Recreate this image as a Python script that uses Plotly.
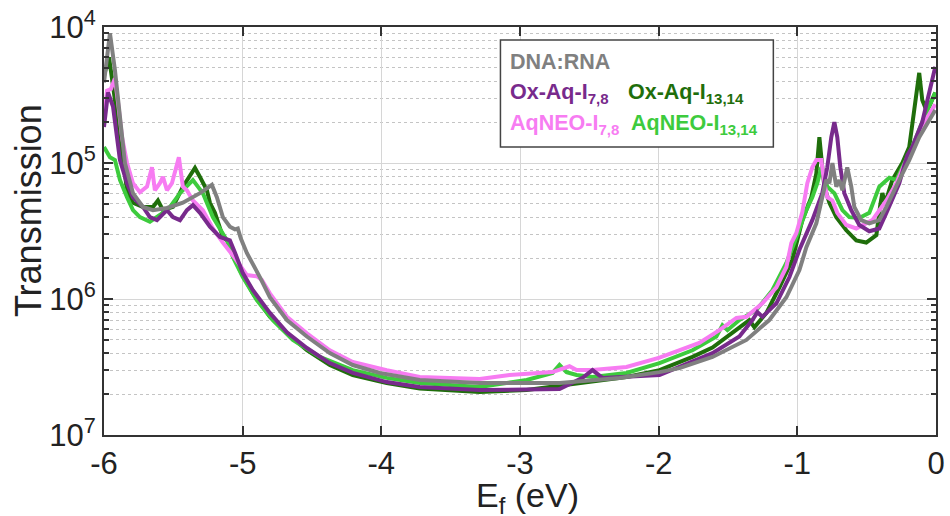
import plotly.graph_objects as go

# ---------------- data ----------------
# DNA:RNA (gray)
E_dna = [-6.0, -5.957, -5.921, -5.885, -5.849, -5.791, -5.719, -5.647, -5.546, -5.431,
         -5.308, -5.222, -5.186, -5.143, -5.092, -5.056, -5.035, -5.013, -4.970, -4.876,
         -4.804, -4.681, -4.537, -4.372, -4.206, -4.01, -3.723, -3.291, -2.715, -2.282,
         -1.994, -1.850, -1.612, -1.367, -1.202, -1.079, -0.985, -0.935, -0.863, -0.820,
         -0.791, -0.769, -0.747, -0.719, -0.697, -0.675, -0.640, -0.611, -0.589, -0.539,
         -0.481, -0.409, -0.358, -0.265, -0.193, -0.121, -0.049, -0.005]
T_dna = [3.9e-5, 9.0e-5, 4.8e-5, 2.1e-5, 1.0e-5, 6.0e-6, 4.75e-6, 4.5e-6, 4.67e-6, 5.1e-6,
         6.0e-6, 6.9e-6, 5.6e-6, 4.0e-6, 3.4e-6, 3.25e-6, 3.3e-6, 2.78e-6, 2.18e-6, 1.45e-6,
         1.03e-6, 7.0e-7, 5.3e-7, 4.0e-7, 3.27e-7, 2.86e-7, 2.54e-7, 2.41e-7, 2.41e-7, 2.63e-7,
         2.9e-7, 3.1e-7, 3.75e-7, 5.0e-7, 7.0e-7, 1.03e-6, 1.63e-6, 2.4e-6, 3.6e-6, 5.6e-6,
         7.5e-6, 7.1e-6, 1.0e-5, 6.7e-6, 7.5e-6, 6.3e-6, 9.3e-6, 6.7e-6, 4.75e-6, 3.8e-6,
         3.6e-6, 3.8e-6, 4.75e-6, 7.5e-6, 1.05e-5, 1.55e-5, 2.1e-5, 2.45e-5]

# Ox-Aq-I7,8 (purple)
E_oxaq78 = [-6.0, -5.971, -5.935, -5.899, -5.885, -5.834, -5.791, -5.719, -5.669, -5.618,
            -5.546, -5.503, -5.452, -5.402, -5.359, -5.308, -5.236, -5.164, -5.092, -5.056,
            -4.999, -4.926, -4.804, -4.681, -4.537, -4.372, -4.206, -3.961, -3.723, -3.291,
            -2.715, -2.549, -2.477, -2.405, -1.994, -1.612, -1.418, -1.324, -1.288, -1.252,
            -1.151, -1.057, -0.985, -0.892, -0.820, -0.784, -0.755, -0.733, -0.712, -0.690,
            -0.661, -0.611, -0.553, -0.481, -0.409, -0.358, -0.265, -0.207, -0.171, -0.099,
            -0.049, -0.005]
T_oxaq78 = [1.84e-5, 3.3e-5, 2.6e-5, 1.31e-5, 1.05e-5, 7.1e-6, 5.6e-6, 4.75e-6, 4.0e-6, 3.8e-6,
            4.5e-6, 4.0e-6, 3.8e-6, 4.5e-6, 4.9e-6, 4.3e-6, 3.4e-6, 2.86e-6, 2.7e-6, 2.2e-6,
            1.55e-6, 1.16e-6, 7.9e-7, 5.7e-7, 4.36e-7, 3.38e-7, 2.86e-7, 2.45e-7, 2.25e-7, 2.14e-7,
            2.18e-7, 2.63e-7, 3.0e-7, 2.63e-7, 2.76e-7, 4.0e-7, 5.3e-7, 7.0e-7, 8.0e-7, 7.4e-7,
            9.3e-7, 1.45e-6, 2.3e-6, 3.8e-6, 6.0e-6, 9.3e-6, 1.55e-5, 2.0e-5, 1.55e-5, 9.3e-6,
            6.0e-6, 4.5e-6, 3.5e-6, 3.15e-6, 3.3e-6, 4.3e-6, 7.1e-6, 1.14e-5, 1.31e-5, 2.0e-5,
            3.4e-5, 5.1e-5]

# Ox-Aq-I13,14 (dark green)
E_oxaq1314 = [-6.0, -5.964, -5.935, -5.899, -5.863, -5.834, -5.791, -5.719, -5.647, -5.611,
              -5.575, -5.503, -5.431, -5.344, -5.308, -5.258, -5.236, -5.200, -5.143, -5.092,
              -5.020, -4.926, -4.804, -4.681, -4.537, -4.372, -4.206, -3.961, -3.723, -3.291,
              -2.952, -2.477, -2.232, -1.994, -1.756, -1.612, -1.468, -1.367, -1.346, -1.310,
              -1.223, -1.129, -1.036, -0.964, -0.899, -0.863, -0.841, -0.820, -0.805, -0.769,
              -0.719, -0.647, -0.575, -0.503, -0.430, -0.402, -0.387, -0.366, -0.315, -0.243,
              -0.193, -0.157, -0.121, -0.099, -0.070, -0.049, -0.005]
T_oxaq1314 = [4.4e-5, 6.0e-5, 3.7e-5, 1.9e-5, 9.7e-6, 6.3e-6, 5.1e-6, 4.75e-6, 4.75e-6, 5.3e-6,
              4.5e-6, 4.75e-6, 6.7e-6, 9.2e-6, 7.9e-6, 6.3e-6, 5.1e-6, 4.3e-6, 2.86e-6, 2.58e-6,
              1.63e-6, 1.1e-6, 7.4e-7, 5.6e-7, 4.2e-7, 3.27e-7, 2.76e-7, 2.41e-7, 2.2e-7, 2.07e-7,
              2.14e-7, 2.45e-7, 2.67e-7, 3.0e-7, 3.75e-7, 4.4e-7, 5.6e-7, 6.7e-7, 7.0e-7, 6.2e-7,
              7.9e-7, 1.22e-6, 1.94e-6, 3.8e-6, 5.6e-6, 8.4e-6, 1.55e-5, 9.3e-6, 6.7e-6, 5.1e-6,
              4.0e-6, 3.2e-6, 2.7e-6, 2.6e-6, 2.95e-6, 4.9e-6, 6.0e-6, 5.1e-6, 7.5e-6, 1.0e-5,
              1.31e-5, 2.45e-5, 4.6e-5, 2.9e-5, 2.45e-5, 2.6e-5, 3.3e-5]

# AqNEO-I7,8 (pink)
E_aqneo78 = [-6.0, -5.978, -5.950, -5.921, -5.899, -5.870, -5.834, -5.791, -5.741, -5.690,
             -5.654, -5.633, -5.597, -5.575, -5.546, -5.510, -5.460, -5.431, -5.402, -5.359,
             -5.287, -5.215, -5.143, -5.056, -4.970, -4.898, -4.862, -4.804, -4.681, -4.537,
             -4.372, -4.206, -3.961, -3.723, -3.291, -3.075, -2.765, -2.643, -2.592, -2.477,
             -2.232, -1.994, -1.707, -1.562, -1.439, -1.367, -1.252, -1.151, -1.079, -1.043,
             -1.007, -0.964, -0.928, -0.892, -0.863, -0.827, -0.805, -0.784, -0.747, -0.712,
             -0.647, -0.575, -0.459, -0.358, -0.286, -0.214, -0.142, -0.070, -0.005]
T_aqneo78 = [2.0e-5, 3.4e-5, 3.5e-5, 4.2e-5, 2.8e-5, 1.55e-5, 1.0e-5, 7.1e-6, 6.1e-6, 6.7e-6,
             9.3e-6, 6.3e-6, 7.1e-6, 7.9e-6, 6.3e-6, 7.1e-6, 1.1e-5, 6.7e-6, 6.3e-6, 5.3e-6,
             4.5e-6, 3.3e-6, 2.6e-6, 2.0e-6, 1.5e-6, 1.47e-6, 1.38e-6, 1.1e-6, 7.4e-7, 5.6e-7,
             4.2e-7, 3.44e-7, 3.0e-7, 2.67e-7, 2.58e-7, 2.76e-7, 2.9e-7, 3.2e-7, 3.0e-7, 3.0e-7,
             3.16e-7, 3.7e-7, 4.75e-7, 5.9e-7, 7.25e-7, 7.4e-7, 9.3e-7, 1.22e-6, 1.72e-6, 2.58e-6,
             3.06e-6, 4.36e-6, 7.1e-6, 9.3e-6, 1.05e-5, 1.05e-5, 7.1e-6, 5.6e-6, 5.3e-6, 4.3e-6,
             3.5e-6, 3.3e-6, 3.8e-6, 5.3e-6, 7.1e-6, 1.05e-5, 1.48e-5, 2.1e-5, 2.7e-5]

# AqNEO-I13,14 (light green)
E_aqneo1314 = [-6.0, -5.957, -5.921, -5.885, -5.834, -5.791, -5.741, -5.669, -5.597, -5.524,
               -5.452, -5.402, -5.359, -5.323, -5.287, -5.215, -5.114, -5.071, -4.999, -4.898,
               -4.782, -4.638, -4.444, -4.206, -3.961, -3.723, -3.291, -2.952, -2.765, -2.715,
               -2.664, -2.592, -2.477, -2.232, -1.994, -1.756, -1.584, -1.540, -1.504, -1.418,
               -1.295, -1.180, -1.079, -1.021, -0.935, -0.892, -0.856, -0.827, -0.805, -0.784,
               -0.733, -0.675, -0.625, -0.553, -0.481, -0.409, -0.337, -0.286, -0.243, -0.171,
               -0.099, -0.049, -0.005]
T_aqneo1314 = [1.31e-5, 1.1e-5, 1.05e-5, 7.5e-6, 5.6e-6, 4.5e-6, 4.0e-6, 3.7e-6, 4.15e-6, 4.75e-6,
               6.0e-6, 6.7e-6, 7.5e-6, 6.7e-6, 6.0e-6, 4.0e-6, 2.7e-6, 2.04e-6, 1.45e-6, 9.8e-7,
               7.0e-7, 5.0e-7, 3.75e-7, 3.0e-7, 2.63e-7, 2.41e-7, 2.25e-7, 2.54e-7, 2.86e-7, 3.27e-7,
               2.9e-7, 2.76e-7, 2.67e-7, 2.86e-7, 3.38e-7, 4.2e-7, 5.3e-7, 6.4e-7, 5.9e-7, 7.0e-7,
               8.3e-7, 1.16e-6, 1.84e-6, 2.6e-6, 4.5e-6, 5.6e-6, 7.1e-6, 9.3e-6, 7.9e-6, 6.7e-6,
               6.0e-6, 4.5e-6, 4.0e-6, 3.94e-6, 4.3e-6, 6.7e-6, 7.8e-6, 7.5e-6, 9.3e-6, 1.31e-5,
               2.0e-5, 2.6e-5, 3.3e-5]

x_ticks = [-6, -5, -4, -3, -2, -1, 0]
x_ticklabels = ["-6", "-5", "-4", "-3", "-2", "-1", "0"]
y_ticks = [1e-7, 1e-6, 1e-5, 1e-4]
y_ticklabels = ["10<sup>7</sup>", "10<sup>6</sup>", "10<sup>5</sup>", "10<sup>4</sup>"]

C_GRAY = "#808080"
C_PURPLE = "#782A8C"
C_DGREEN = "#1F6E0B"
C_PINK = "#F77CF2"
C_LGREEN = "#3DCB3D"

FONT = "Arial, Liberation Sans, sans-serif"
TXT = "#222222"

fig = go.Figure()
series = [
    (E_oxaq1314, T_oxaq1314, C_DGREEN, "Ox-Aq-I13,14"),
    (E_aqneo1314, T_aqneo1314, C_LGREEN, "AqNEO-I13,14"),
    (E_aqneo78, T_aqneo78, C_PINK, "AqNEO-I7,8"),
    (E_oxaq78, T_oxaq78, C_PURPLE, "Ox-Aq-I7,8"),
    (E_dna, T_dna, C_GRAY, "DNA:RNA"),
]
for ex, ty, col, name in series:
    fig.add_trace(go.Scatter(x=ex, y=ty, mode="lines", name=name,
                             line=dict(color=col, width=4), showlegend=False))

minor_vals = [m * 10.0 ** e for e in range(-7, -4) for m in range(2, 10)]

fig.update_xaxes(range=[-6, 0], tickmode="array", tickvals=x_ticks, ticktext=x_ticklabels,
                 showgrid=True, gridcolor="#d6d6d6", gridwidth=1,
                 ticks="inside", ticklen=9, tickwidth=1.5, tickcolor="#333",
                 showline=True, linecolor="#333", linewidth=2, mirror="allticks",
                 tickfont=dict(family=FONT, size=31, color=TXT),
                 automargin=False, zeroline=False)
fig.update_yaxes(type="log", range=[-7, -4], tickmode="array", tickvals=y_ticks, ticktext=y_ticklabels,
                 showgrid=True, gridcolor="#d6d6d6", gridwidth=1,
                 ticks="inside", ticklen=9, tickwidth=1.5, tickcolor="#333",
                 showline=True, linecolor="#333", linewidth=2, mirror="allticks",
                 tickfont=dict(family=FONT, size=31, color=TXT),
                 minor=dict(tickmode="array", tickvals=minor_vals, ticks="inside", ticklen=5,
                            tickcolor="#333", showgrid=True, gridcolor="#c4c4c4",
                            griddash="dot", gridwidth=1),
                 automargin=False, zeroline=False)

# axis titles
fig.add_annotation(text="E<sub>f</sub> (eV)", xref="paper", yref="paper", x=0.5096, y=-0.152,
                   xanchor="center", yanchor="middle", showarrow=False,
                   font=dict(family=FONT, size=34, color=TXT))
fig.add_annotation(text="Transmission", xref="paper", yref="paper", x=-0.0913, y=0.549,
                   xanchor="center", yanchor="middle", showarrow=False, textangle=-90,
                   font=dict(family=FONT, size=36, color=TXT))

# legend box drawn as text
fig.add_shape(type="rect", xref="paper", yref="paper", x0=0.4765, x1=0.8045, y0=0.706, y1=0.968,
              line=dict(color="#444", width=1.5), fillcolor="white", layer="above")
leg_items = [
    ("<b>DNA:RNA</b>", C_GRAY, 0.4856, 0.915),
    ("<b>Ox-Aq-I<sub>7,8</sub></b>", C_PURPLE, 0.4856, 0.837),
    ("<b>Ox-Aq-I<sub>13,14</sub></b>", C_DGREEN, 0.627, 0.837),
    ("<b>AqNEO-I<sub>7,8</sub></b>", C_PINK, 0.4856, 0.761),
    ("<b>AqNEO-I<sub>13,14</sub></b>", C_LGREEN, 0.631, 0.761),
]
for txt, col, xx, yy in leg_items:
    fig.add_annotation(text=txt, xref="paper", yref="paper", x=xx, y=yy,
                       xanchor="left", yanchor="middle", showarrow=False,
                       font=dict(family=FONT, size=21.5, color=col))

fig.update_layout(width=950, height=516, margin=dict(l=104, r=14, t=27, b=81),
                  plot_bgcolor="white", paper_bgcolor="white")

fig.write_html("out.html", config={"displayModeBar": False},
               post_script="document.body.style.margin='0';document.body.style.overflow='hidden';")
